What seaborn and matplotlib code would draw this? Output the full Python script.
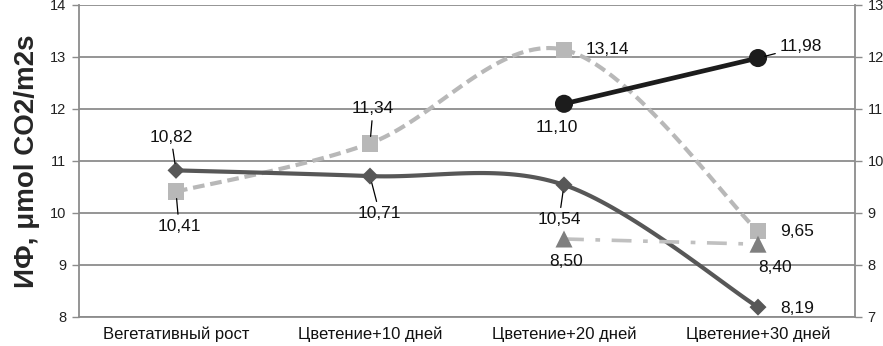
import numpy as np
import pandas as pd
import matplotlib
matplotlib.use("Agg")
import matplotlib.pyplot as plt
import seaborn as sns

# ---------------- data ----------------
categories = ["Вегетативный рост", "Цветение+10 дней", "Цветение+20 дней", "Цветение+30 дней"]
diamond_vals = [10.82, 10.71, 10.54, 8.19]          # left axis, smoothed solid
square_vals = [10.41, 11.34, 13.14, 9.65]           # left axis, smoothed dashed
circle_vals = [np.nan, np.nan, 11.10, 11.98]        # right axis, solid black
triangle_vals = [np.nan, np.nan, 8.50, 8.40]        # right axis, dash-dot
left_ticks = [8, 9, 10, 11, 12, 13, 14]
right_ticks = [7, 8, 9, 10, 11, 12, 13]
y_label = "ИФ, μmol CO2/m2s"

# ---------------- style ----------------
sns.set_style("white")
plt.rcParams["font.family"] = ["Liberation Sans", "DejaVu Sans"]

fig = plt.figure(figsize=(8.83, 3.46), dpi=100)
ax = fig.add_axes([79 / 883, 1 - 317 / 346, (855 - 79) / 883, (317 - 5) / 346])
ax2 = ax.twinx()

x = np.arange(len(categories))


def smooth(xs, ys, n=40):
    pts = np.column_stack([xs, ys]).astype(float)
    out = []
    m = len(pts)
    for i in range(m - 1):
        p0 = pts[max(i - 1, 0)]
        p1 = pts[i]
        p2 = pts[i + 1]
        p3 = pts[min(i + 2, m - 1)]
        c1 = p1 + (p2 - p0) / 6
        c2 = p2 - (p3 - p1) / 6
        t = np.linspace(0, 1, n)[:, None]
        seg = (1 - t) ** 3 * p1 + 3 * (1 - t) ** 2 * t * c1 + 3 * (1 - t) * t ** 2 * c2 + t ** 3 * p2
        out.append(seg if i == 0 else seg[1:])
    return np.vstack(out)


grid_c = "#8c8c8c"
for v in left_ticks:
    ax.axhline(v, color=grid_c, lw=1.3, zorder=0)

# diamond series (smoothed)
d = smooth(x, diamond_vals)
sns.lineplot(x=d[:, 0], y=d[:, 1], sort=False, estimator=None, ax=ax,
             color="#575757", lw=3.0, zorder=3)
sns.scatterplot(x=x, y=diamond_vals, ax=ax, marker="D", s=75, color="#575757",
                edgecolor="none", zorder=4)

# square series (smoothed dashed)
s = smooth(x, square_vals)
sns.lineplot(x=s[:, 0], y=s[:, 1], sort=False, estimator=None, ax=ax,
             color="#b8b8b8", lw=3.0, zorder=2)
ax.lines[-1].set_dashes((2.8, 1.4))
sns.scatterplot(x=x, y=square_vals, ax=ax, marker="s", s=140, color="#b8b8b8",
                edgecolor="none", zorder=4)

# right axis series
cdf = pd.DataFrame({"x": x, "y": circle_vals}).dropna()
sns.lineplot(data=cdf, x="x", y="y", ax=ax2, color="#1c1c1c", lw=3.4,
             estimator=None, sort=False)
sns.scatterplot(data=cdf, x="x", y="y", ax=ax2, marker="o", s=170, color="#1c1c1c",
                edgecolor="none", zorder=5)

tdf = pd.DataFrame({"x": x, "y": triangle_vals}).dropna()
sns.lineplot(data=tdf, x="x", y="y", ax=ax2, color="#c0c0c0", lw=2.6,
             estimator=None, sort=False)
ax2.lines[-1].set_dashes((5.5, 3.2, 1.3, 3.2))
sns.scatterplot(data=tdf, x="x", y="y", ax=ax2, marker="^", s=150, color="#7f7f7f",
                edgecolor="none", zorder=5)


# ---------------- data labels ----------------
def fmt(v):
    return f"{v:.2f}".replace(".", ",")


lab_kw = dict(textcoords="offset points", ha="center", va="center", fontsize=12.5,
              color="#111111", zorder=10)
leader = dict(arrowstyle="-", color="black", lw=0.9, shrinkA=1, shrinkB=5)

# (axis, x index, value, offset in points, leader?)
labels = [
    (ax, 0, diamond_vals[0], (-3.6, 24), True),
    (ax, 1, diamond_vals[1], (7, -27), True),
    (ax, 2, diamond_vals[2], (-3.6, -25), True),
    (ax, 3, diamond_vals[3], (28, -1), False),
    (ax, 0, square_vals[0], (2.2, -25), True),
    (ax, 1, square_vals[1], (2.2, 25), True),
    (ax, 2, square_vals[2], (31, 0), False),
    (ax, 3, square_vals[3], (28, 0), False),
    (ax2, 2, circle_vals[2], (-5, -17), False),
    (ax2, 3, circle_vals[3], (31, 8), True),
    (ax2, 2, triangle_vals[2], (1.5, -16), False),
    (ax2, 3, triangle_vals[3], (12, -17), False),
]
for a, i, v, off, ld in labels:
    kw = dict(lab_kw)
    if ld:
        kw["arrowprops"] = leader
    a.annotate(fmt(v), xy=(x[i], v), xytext=off, **kw)

# ---------------- axes ----------------
ax.set_xlim(-0.5, 3.5)
ax.set_ylim(8, 14)
ax2.set_ylim(7, 13)
ax.set_yticks(left_ticks)
ax2.set_yticks(right_ticks)
ax.set_xticks(x)
ax.set_xticklabels(categories, fontsize=12, color="#111111")
ax.set_xticks([0.5, 1.5, 2.5], minor=True)
ax.tick_params(axis="x", which="major", length=0, pad=7)
ax.tick_params(axis="x", which="minor", length=5, width=1, color=grid_c, direction="out")
ax.tick_params(axis="y", length=5, width=1, color=grid_c, direction="out",
               labelsize=10.5, labelcolor="#222222", pad=4, left=True)
ax2.tick_params(axis="y", length=5, width=1, color=grid_c, direction="out",
                labelsize=10.5, labelcolor="#222222", pad=4, right=True)
ax.set_xlabel("")
ax2.set_xlabel("")
ax2.set_ylabel("")
ax.set_ylabel(y_label, fontsize=20, fontweight="bold", labelpad=7)

for a in (ax, ax2):
    a.spines["top"].set_visible(False)
    for k in ("left", "right", "bottom"):
        a.spines[k].set_color(grid_c)
        a.spines[k].set_linewidth(1.3)
ax.spines["right"].set_visible(False)
ax2.spines["left"].set_visible(False)
ax2.spines["bottom"].set_visible(False)

fig.savefig("out.png", dpi=100)
